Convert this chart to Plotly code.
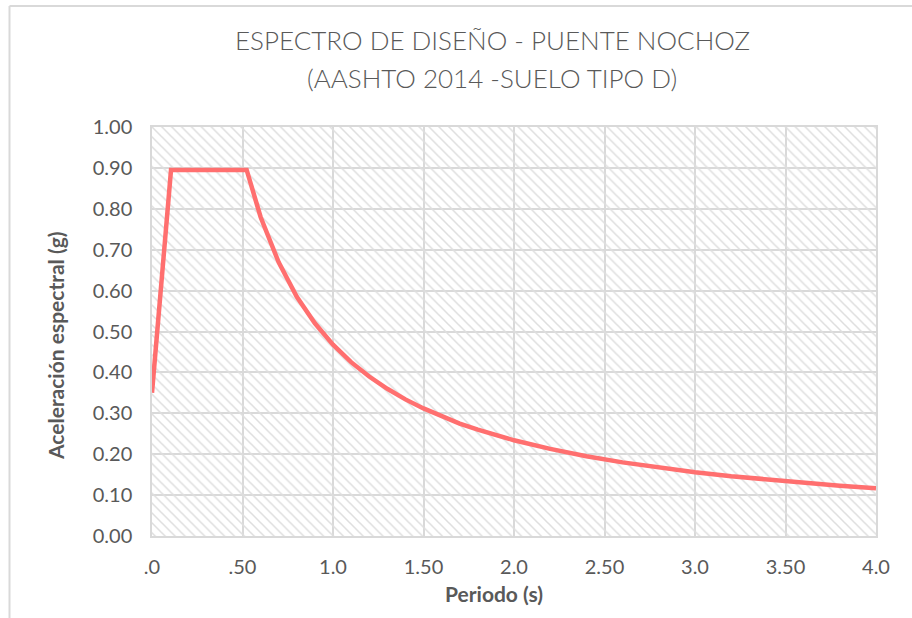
import plotly.graph_objects as go

# Design spectrum (AASHTO 2014, soil type D) - period (s) vs spectral acceleration (g)
periods = [0.0, 0.105, 0.523, 0.6, 0.7, 0.8, 0.9, 1.0, 1.1, 1.2, 1.3, 1.4, 1.5,
           1.6, 1.7, 1.8, 1.9, 2.0, 2.2, 2.4, 2.6, 2.8, 3.0, 3.2, 3.4, 3.6, 3.8, 4.0]
accel = [0.35, 0.895, 0.895, 0.78, 0.669, 0.585, 0.52, 0.468, 0.425, 0.39, 0.36,
         0.334, 0.312, 0.293, 0.275, 0.26, 0.246, 0.234, 0.213, 0.195, 0.18, 0.167,
         0.156, 0.146, 0.138, 0.13, 0.123, 0.117]

x_tick_vals = [0.0, 0.5, 1.0, 1.5, 2.0, 2.5, 3.0, 3.5, 4.0]
x_tick_text = [".0", ".50", "1.0", "1.50", "2.0", "2.50", "3.0", "3.50", "4.0"]
x_range = [0.0, 4.0]
y_range = [0.0, 1.0]

FONT = "Lato"
GREY = "#595959"
GRID = "#d9d9d9"

W, H = 912, 618
ML, MR, MT, MB = 152, 36, 127, 82
PW, PH = W - ML - MR, H - MT - MB

fig = go.Figure()

# hatched plot-area background
fig.add_trace(go.Scatter(
    x=[x_range[0], x_range[1], x_range[1], x_range[0], x_range[0]],
    y=[y_range[0], y_range[0], y_range[1], y_range[1], y_range[0]],
    mode="none", fill="toself", fillcolor="rgba(0,0,0,0)",
    fillpattern=dict(shape="\\", fgcolor="#dedede", size=7, solidity=0.22,
                     fillmode="replace"),
    hoverinfo="skip", showlegend=False,
))

fig.add_trace(go.Scatter(
    x=periods, y=accel, mode="lines",
    line=dict(color="#FF6F6F", width=4.5),
    showlegend=False,
))

fig.update_layout(
    width=W, height=H,
    margin=dict(l=ML, r=MR, t=MT, b=MB),
    paper_bgcolor="white", plot_bgcolor="white",
    font=dict(family=FONT, color=GREY),
    xaxis=dict(
        range=x_range, tickvals=x_tick_vals, ticktext=x_tick_text,
        showgrid=True, gridcolor=GRID, gridwidth=1.5,
        zeroline=False, showline=True, linecolor=GRID, linewidth=1.5, mirror=True,
        ticks="outside", ticklen=12, tickcolor="rgba(0,0,0,0)",
        tickfont=dict(family=FONT, size=20, color=GREY),
    ),
    yaxis=dict(
        range=y_range, dtick=0.1, tickformat=".2f",
        showgrid=True, gridcolor=GRID, gridwidth=1.5,
        zeroline=False, showline=True, linecolor=GRID, linewidth=1.5, mirror=True,
        ticks="outside", ticklen=14, tickcolor="rgba(0,0,0,0)",
        tickfont=dict(family=FONT, size=20, color=GREY),
    ),
)

# chart title, two lines
def px_to_paper(px_x, px_y):
    return (px_x - ML) / PW, (H - MB - px_y) / PH

tx, ty1 = px_to_paper(492, 40)
_, ty2 = px_to_paper(492, 78)
fig.add_annotation(text="ESPECTRO DE DISEÑO - PUENTE NOCHOZ", xref="paper", yref="paper",
                   x=tx, y=ty1, xanchor="center", yanchor="middle", showarrow=False,
                   font=dict(family=FONT, size=26, color=GREY, weight=300))
fig.add_annotation(text="(AASHTO 2014 -SUELO TIPO D)", xref="paper", yref="paper",
                   x=tx, y=ty2, xanchor="center", yanchor="middle", showarrow=False,
                   font=dict(family=FONT, size=26, color=GREY, weight=300))

# axis titles
ax, ay = px_to_paper(494, 593)
fig.add_annotation(text="<b>Periodo (s)</b>", xref="paper", yref="paper",
                   x=ax, y=ay, xanchor="center", yanchor="middle", showarrow=False,
                   font=dict(family=FONT, size=21, color=GREY))
bx, by = px_to_paper(55, 346)
fig.add_annotation(text="<b>Aceleración espectral (g)</b>", xref="paper", yref="paper",
                   x=bx, y=by, textangle=-90,
                   xanchor="center", yanchor="middle", showarrow=False,
                   font=dict(family=FONT, size=21, color=GREY))

# chart frame
fx, fy_top = px_to_paper(9.5, 6)
_, fy_bot = px_to_paper(9.5, H + 5)
fx_right, _ = px_to_paper(W + 5, 6)
fig.add_shape(type="line", xref="paper", yref="paper", x0=fx, x1=fx, y0=fy_top, y1=fy_bot,
              line=dict(color="#d9d9d9", width=2))
fig.add_shape(type="line", xref="paper", yref="paper", x0=fx, x1=fx_right,
              y0=fy_top, y1=fy_top, line=dict(color="#d9d9d9", width=2))

fig.write_html("out.html")
